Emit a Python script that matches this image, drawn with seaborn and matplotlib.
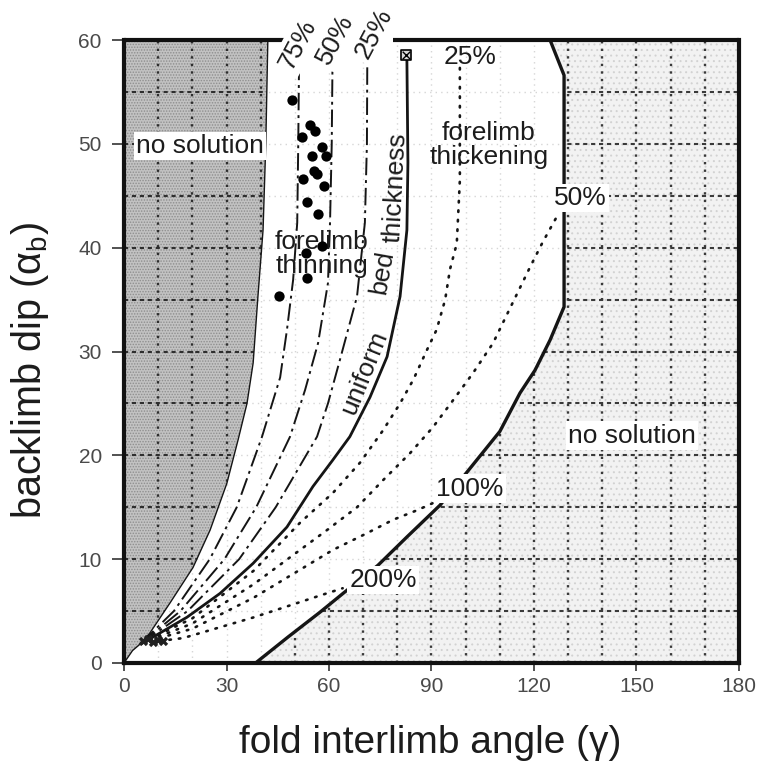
import numpy as np
import matplotlib
matplotlib.use("Agg")
import matplotlib.pyplot as plt
import seaborn as sns
from matplotlib.patches import Polygon

# ---------------- data ----------------
# left "no solution" boundary (dark stippled region lies left of it)
left_bound_x = [0.0, 2.5, 5.0, 7.6, 13.5, 20.2, 25.2, 30.1, 33.4, 36.0, 37.8, 39.2, 40.7, 41.5, 42.1]
left_bound_y = [0.0, 1.2, 1.9, 2.9, 5.8, 9.2, 12.8, 17.3, 21.5, 25.0, 28.9, 35.3, 41.7, 50.0, 60.0]

# right "no solution" boundary (light stippled region lies right/below it)
right_bound_x = [38.5, 48.0, 57.4, 64.1, 74.3, 83.0, 92.5, 99.2, 110.0, 115.9, 120.3, 124.7, 128.8, 128.8, 124.7]
right_bound_y = [0.0, 2.5, 4.9, 6.7, 9.4, 12.2, 15.2, 17.9, 22.3, 26.0, 28.2, 31.1, 34.3, 56.6, 60.0]

# uniform bed thickness
uniform_x = [5.0, 8.5, 18.4, 28.1, 37.8, 47.7, 55.3, 61.0, 66.1, 72.0, 77.0, 80.8, 82.8, 83.1, 82.8]
uniform_y = [1.9, 2.5, 4.4, 6.7, 9.6, 13.1, 17.0, 19.5, 21.8, 25.6, 29.5, 35.3, 41.7, 48.2, 58.1]

# forelimb thinning (dashed)
thin75_x = [5.0, 14.6, 25.1, 33.0, 40.4, 45.7, 47.7, 49.5, 50.7, 51.0, 51.2]
thin75_y = [1.9, 5.0, 10.0, 15.0, 21.8, 27.5, 32.1, 36.9, 42.4, 50.0, 56.8]
thin50_x = [5.0, 16.5, 29.4, 38.7, 48.6, 53.0, 56.8, 59.7, 60.3, 60.8, 61.0]
thin50_y = [1.9, 5.0, 10.0, 15.0, 21.8, 26.3, 30.8, 36.6, 42.4, 50.0, 57.0]
thin25_x = [5.0, 18.6, 33.7, 44.4, 56.5, 59.7, 63.2, 68.2, 70.5, 71.1, 71.2]
thin25_y = [1.9, 5.0, 10.0, 15.0, 21.8, 25.0, 29.2, 35.3, 42.4, 50.0, 57.5]

# forelimb thickening (dotted)
thick25_x = [5.0, 20.0, 38.0, 51.5, 61.2, 69.1, 75.8, 80.8, 84.7, 88.6, 91.5, 94.0, 95.4, 97.4, 98.3, 98.3]
thick25_y = [1.9, 4.3, 8.9, 13.5, 16.4, 19.3, 22.4, 25.0, 27.3, 30.1, 32.1, 35.0, 37.9, 40.4, 46.5, 57.4]
thick50_x = [5.0, 20.0, 38.0, 59.4, 68.2, 75.8, 83.7, 90.4, 96.3, 102.1, 108.0, 118.8, 122.5, 126.7]
thick50_y = [1.9, 3.8, 7.6, 12.8, 15.0, 17.6, 20.2, 22.7, 25.3, 27.9, 30.8, 38.1, 40.5, 43.0]
thick100_x = [5.0, 20.0, 38.0, 61.2, 71.1, 78.8, 85.7, 90.4]
thick100_y = [1.9, 3.3, 6.3, 10.9, 12.5, 13.8, 14.7, 15.4]
thick200_x = [5.0, 17.3, 38.0, 57.4, 64.0]
thick200_y = [1.9, 2.4, 4.4, 6.5, 7.2]

# measured folds (black dots)
pts_x = [49.1, 54.4, 55.9, 52.0, 57.9, 59.1, 54.9, 55.6, 56.6, 52.5, 58.5, 53.5, 56.9, 57.9, 53.3, 53.7, 45.4]
pts_y = [54.2, 51.8, 51.2, 50.7, 49.7, 48.8, 48.8, 47.4, 47.1, 46.6, 45.9, 44.4, 43.2, 40.2, 39.5, 37.1, 35.3]

# special symbols (boxed cross at top, scribble near origin)
box_x = [82.4]
box_y = [58.6]
blob_x = [5.5, 7.0, 8.5, 10.0, 11.5]
blob_y = [2.1, 2.3, 2.0, 2.2, 2.1]

x_ticks = [0, 30, 60, 90, 120, 150, 180]
y_ticks = [0, 10, 20, 30, 40, 50, 60]
grid_x = [10, 20, 30, 40, 50, 60, 70, 80, 90, 100, 110, 120, 130, 140, 150, 160, 170]
grid_y = [5, 10, 15, 20, 25, 30, 35, 40, 45, 50, 55]
top_frame_gap = (48.6, 78.7)

# ---------------- style ----------------
sns.set_theme(style="white")
plt.rcParams["font.family"] = ["Liberation Sans", "DejaVu Sans"]
plt.rcParams["mathtext.fontset"] = "custom"
plt.rcParams["mathtext.rm"] = "Liberation Sans"
plt.rcParams["hatch.linewidth"] = 0.7

TXT = "#1c1c1c"
fig = plt.figure(figsize=(7.58, 7.65), dpi=100)
ax = fig.add_axes([124 / 758, 1 - 663 / 765, (739 - 124) / 758, (663 - 40) / 765])
ax.set_xlim(0, 180)
ax.set_ylim(0, 60)

# faint grid everywhere
ax.vlines(grid_x, 0, 60, colors="#d6d6d6", linestyles=(0, (1, 3)), lw=1.0, zorder=0.5)
ax.hlines(grid_y, 0, 180, colors="#d6d6d6", linestyles=(0, (1, 3)), lw=1.0, zorder=0.5)

# shaded no-solution regions
left_poly = Polygon(np.column_stack([left_bound_x + [0.0], left_bound_y + [60.0]]),
                    closed=True, facecolor="#c2c2c2", edgecolor="#8e8e8e",
                    hatch="......", lw=0, zorder=1)
right_poly = Polygon(np.column_stack([right_bound_x + [180.0, 180.0], right_bound_y + [60.0, 0.0]]),
                     closed=True, facecolor="#f2f2f2", edgecolor="#d2d2d2",
                     hatch="...", lw=0, zorder=1)
ax.add_patch(left_poly)
ax.add_patch(right_poly)

for poly, col in [(left_poly, "#2e2e2e"), (right_poly, "#3a3a3a")]:
    vl = ax.vlines(grid_x, 0, 60, colors=col, linestyles=(0, (1, 2.2)), lw=1.7, zorder=1.5)
    vl.set_clip_path(poly)
    hl = ax.hlines(grid_y, 0, 180, colors=col, linestyles=(0, (2.0, 1.8)), lw=1.5, zorder=1.5)
    hl.set_clip_path(poly)


def curve(x, y, **kw):
    sns.lineplot(x=x, y=y, sort=False, estimator=None, ax=ax, color="#151515", **kw)


curve(left_bound_x, left_bound_y, lw=1.0, zorder=2)
curve(right_bound_x, right_bound_y, lw=2.4, zorder=2, solid_joinstyle="miter")
curve(uniform_x, uniform_y, lw=2.0, zorder=2)
dash = (0, (9, 2.5, 1.5, 2.5))
for xs, ys in [(thin75_x, thin75_y), (thin50_x, thin50_y), (thin25_x, thin25_y)]:
    curve(xs, ys, lw=1.4, linestyle=dash, zorder=2)
dot = (0, (0.6, 3.0))
for xs, ys in [(thick25_x, thick25_y), (thick50_x, thick50_y),
               (thick100_x, thick100_y), (thick200_x, thick200_y)]:
    curve(xs, ys, lw=1.9, linestyle=dot, dash_capstyle="round", zorder=2)

sns.scatterplot(x=pts_x, y=pts_y, s=55, color="black", edgecolor="black",
                linewidth=0, ax=ax, zorder=5)
sns.scatterplot(x=box_x, y=box_y, s=55, marker="s", color="#d8d8d8",
                edgecolor="black", linewidth=1.2, ax=ax, zorder=5)
sns.scatterplot(x=box_x, y=box_y, s=30, marker="x", color="black",
                linewidth=1.0, ax=ax, zorder=6)
sns.scatterplot(x=blob_x, y=blob_y, s=45, marker="X", color="#202020",
                linewidth=0, ax=ax, zorder=5)

# ---------------- text ----------------
wbox = dict(facecolor="white", edgecolor="none", pad=1.5)
fs = 19
ax.text(22.2, 49.8, "no solution", fontsize=fs, color=TXT, ha="center", va="center",
        bbox=wbox, zorder=7)
ax.text(148.7, 21.9, "no solution", fontsize=fs, color=TXT, ha="center", va="center",
        bbox=wbox, zorder=7)
ax.text(57.9, 39.4, "forelimb\nthinning", fontsize=fs, color=TXT, ha="center", va="center",
        linespacing=1.0, zorder=4)
ax.text(106.8, 49.9, "forelimb\nthickening", fontsize=fs, color=TXT, ha="center", va="center",
        linespacing=1.0, zorder=4)
ax.text(70.3, 28.0, "uniform", fontsize=fs, color=TXT, ha="center", va="center",
        rotation=68, rotation_mode="anchor", zorder=4)
ax.text(75.6, 37.6, "bed", fontsize=fs, color=TXT, ha="center", va="center",
        rotation=80, rotation_mode="anchor", zorder=4)
ax.text(79.6, 45.8, "thickness", fontsize=fs, color=TXT, ha="center", va="center",
        rotation=87, rotation_mode="anchor", zorder=4)
for lx, ly, lab in [(50.9, 59.6, "75%"), (61.8, 60.1, "50%"), (73.0, 60.6, "25%")]:
    ax.text(lx, ly, lab, fontsize=fs, color=TXT, ha="center", va="center",
            rotation=62, rotation_mode="anchor", clip_on=False, zorder=7,
            bbox=dict(facecolor="white", edgecolor="none", pad=2.5))
ax.text(101.3, 58.4, "25%", fontsize=fs, color=TXT, ha="center", va="center", zorder=7)
ax.text(133.7, 44.8, "50%", fontsize=fs, color=TXT, ha="center", va="center",
        bbox=wbox, zorder=7)
ax.text(101.3, 16.8, "100%", fontsize=fs, color=TXT, ha="center", va="center",
        bbox=wbox, zorder=7)
ax.text(75.8, 8.0, "200%", fontsize=fs, color=TXT, ha="center", va="center",
        bbox=wbox, zorder=7)

# ---------------- axes ----------------
ax.set_xticks(x_ticks)
ax.set_yticks(y_ticks)
ax.tick_params(axis="x", bottom=True, direction="out", length=6, width=1.2, color="#333333",
               labelsize=15, labelcolor="#4a4a4a", pad=4)
ax.tick_params(axis="y", left=True, direction="out", length=9, width=1.2, color="#333333",
               labelsize=15, labelcolor="#4a4a4a", pad=7)
ax.set_xlabel("fold interlimb angle (γ)", fontsize=28, color=TXT)
ax.set_ylabel("backlimb dip (α$_\\mathrm{b}$)", fontsize=28.5, color=TXT)
ax.xaxis.set_label_coords(0.4976, -0.099)
ax.yaxis.set_label_coords(-0.118, 0.469)
ax.grid(False)
for side in ["left", "right", "bottom"]:
    ax.spines[side].set_linewidth(3.0)
    ax.spines[side].set_color("#111111")
    ax.spines[side].set_zorder(6)
ax.spines["top"].set_visible(False)
ax.hlines([60, 60], [0, top_frame_gap[1]], [top_frame_gap[0], 180], colors="#111111",
          lw=3.0, clip_on=False, zorder=6)

fig.savefig("out.png", dpi=100)
